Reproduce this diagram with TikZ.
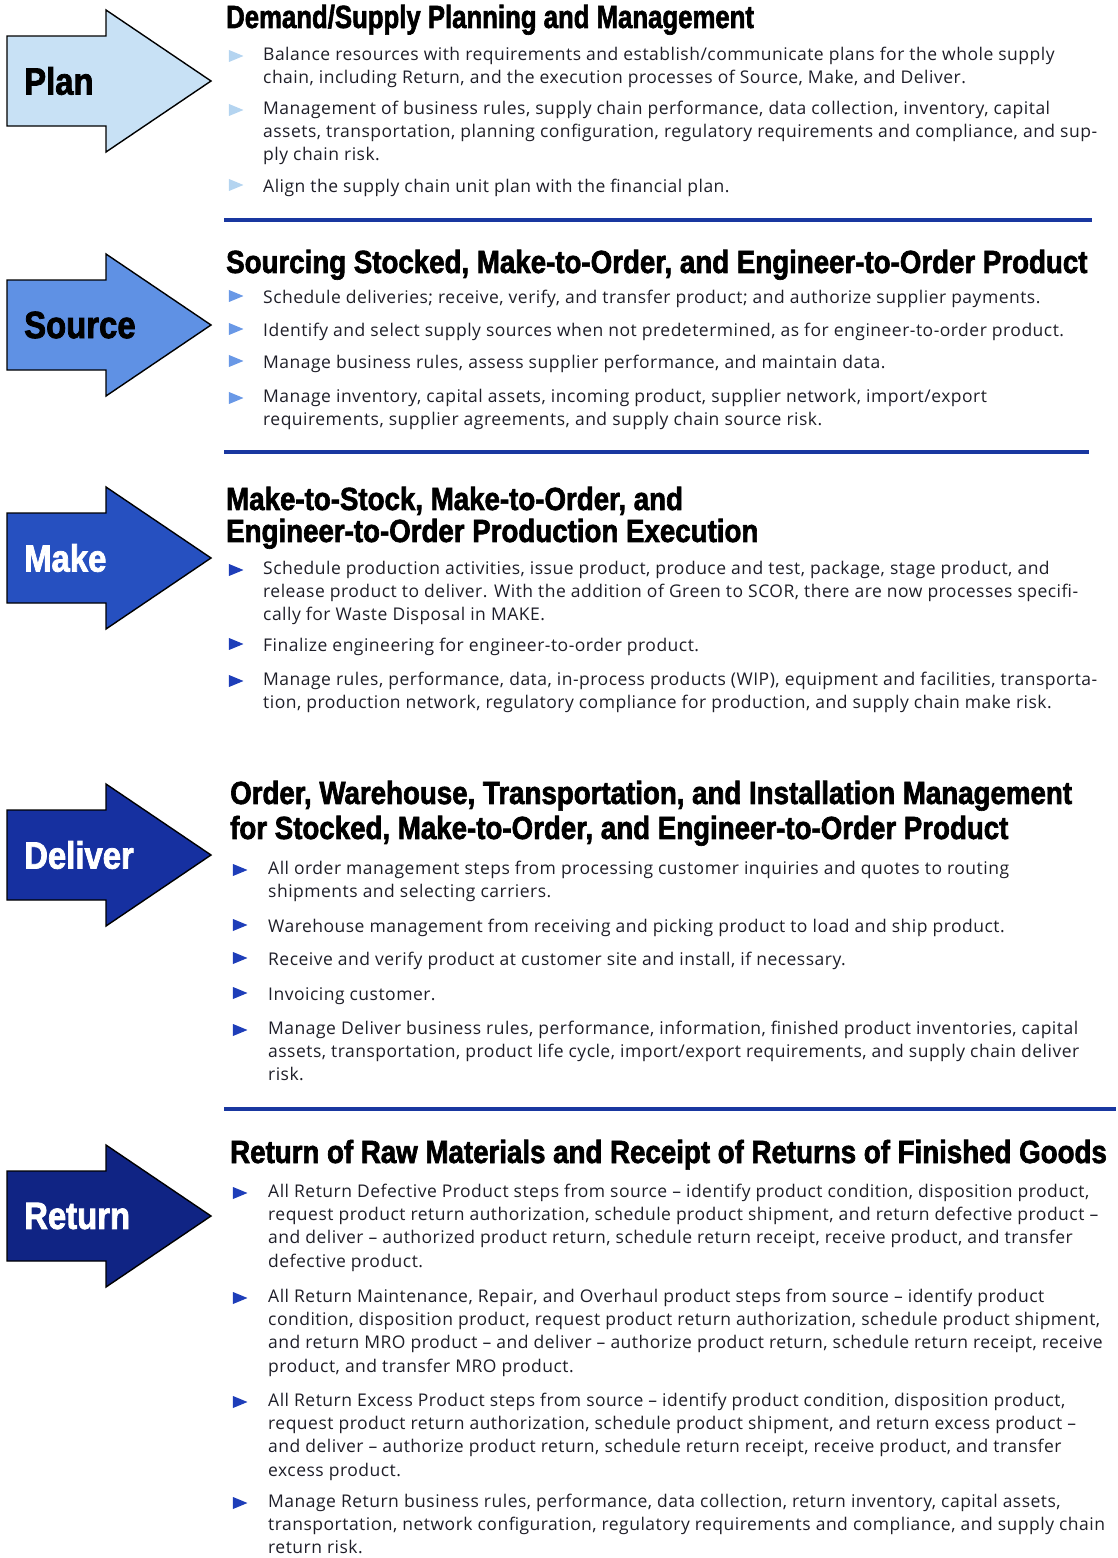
\documentclass[tikz,border=0pt]{standalone}
\usepackage{graphicx}
\usepackage{fontspec}
\setmainfont[LetterSpace=2.8]{Open Sans}
\newfontfamily\headfont[FakeStretch=0.865,FakeBold=2]{Liberation Sans}
\newcommand\hdfont{\headfont\bfseries}
\usetikzlibrary{shapes.geometric,positioning}

\definecolor{plancol}{RGB}{200,225,245}
\definecolor{sourcecol}{RGB}{95,145,228}
\definecolor{makecol}{RGB}{38,80,192}
\definecolor{delivercol}{RGB}{22,48,160}
\definecolor{returncol}{RGB}{16,36,132}
\definecolor{rulecol}{RGB}{25,55,160}
\definecolor{planbul}{RGB}{180,212,240}
\definecolor{sourcebul}{RGB}{105,152,230}
\definecolor{darkbul}{RGB}{30,62,185}
\definecolor{bodytext}{RGB}{30,30,40}

\tikzset{
  arrowbox/.style={draw=black, line width=1.4pt, line join=miter},
  arrowlabel/.style={anchor=west, inner sep=0, font=\fontsize{38}{40}\hdfont},
  % at-coordinates of the texts below are first baselines
  heading/.style={anchor=north west, yshift=22.4pt, align=left, inner sep=0,
    font=\fontsize{32}{32}\hdfont, execute at begin node=\strut},
  itemtext/.style={anchor=north west, yshift=16.31pt, align=left, inner sep=0,
    text=bodytext, font=\fontsize{17.5}{23.3}\selectfont, execute at begin node=\strut},
  bul/.style={isosceles triangle, fill=#1, minimum size=12pt, inner sep=0},
  sepline/.style={rulecol, line width=3.5pt}
}

\begin{document}
\begin{tikzpicture}[x=1pt,y=-1pt]
\useasboundingbox (0,0) rectangle (1118,1558);

% the five process arrows
\foreach \yc/\col/\txt/\tc/\nm in {81/plancol/Plan/black/plan,
    325/sourcecol/Source/black/source, 558/makecol/Make/white/make,
    855/delivercol/Deliver/white/deliver, 1216/returncol/Return/white/return}{
  \draw[arrowbox, fill=\col] (7,\yc-45) -- (106,\yc-45) -- (106,\yc-71) -- (211,\yc)
    -- (106,\yc+71) -- (106,\yc+45) -- (7,\yc+45) -- cycle;
  \node[arrowlabel, text=\tc] (\nm) at (24,\yc) {\txt};
}

% Plan
\node[heading] (planhd) at (226,27) {\scalebox{0.93}[1]{Demand/Supply Planning and Management}};
\node[itemtext] (pl1) at (263,63) {Balance resources with requirements and establish/communicate plans for the whole supply\\
  chain, including Return, and the execution processes of Source, Make, and Deliver.};
\node[itemtext] (pl2) at (263,117) {Management of business rules, supply chain performance, data collection, inventory, capital\\
  assets, transportation, planning configuration, regulatory requirements and compliance, and sup-\\
  ply chain risk.};
\node[itemtext] (pl3) at (263,192) {Align the supply chain unit plan with the financial plan.};
\foreach \n in {pl1,pl2,pl3}
  \node[bul=planbul, left=19pt of \n.north west, yshift=-9.3pt] (\n b) {};
\draw[sepline] (224,220) -- (1092,220);

% Source
\node[heading] (sourcehd) at (226,272) {Sourcing Stocked, Make-to-Order, and Engineer-to-Order Product};
\node[itemtext] (so1) at (263,303) {Schedule deliveries; receive, verify, and transfer product; and authorize supplier payments.};
\node[itemtext] (so2) at (263,336) {Identify and select supply sources when not predetermined, as for engineer-to-order product.};
\node[itemtext] (so3) at (263,368) {Manage business rules, assess supplier performance, and maintain data.};
\node[itemtext] (so4) at (263,405) {Manage inventory, capital assets, incoming product, supplier network, import/export\\
  requirements, supplier agreements, and supply chain source risk.};
\foreach \n in {so1,so2,so3,so4}
  \node[bul=sourcebul, left=19pt of \n.north west, yshift=-9.3pt] (\n b) {};
\draw[sepline] (224,452) -- (1089,452);

% Make
\node[heading] (makehd) at (226,509) {Make-to-Stock, Make-to-Order, and\\
  Engineer-to-Order Production Execution};
\node[itemtext] (ma1) at (263,577) {Schedule production activities, issue product, produce and test, package, stage product, and\\
  release product to deliver. With the addition of Green to SCOR, there are now processes specifi-\\
  cally for Waste Disposal in MAKE.};
\node[itemtext] (ma2) at (263,651) {Finalize engineering for engineer-to-order product.};
\node[itemtext] (ma3) at (263,688) {Manage rules, performance, data, in-process products (WIP), equipment and facilities, transporta-\\
  tion, production network, regulatory compliance for production, and supply chain make risk.};
\foreach \n in {ma1,ma2,ma3}
  \node[bul=darkbul, left=19pt of \n.north west, yshift=-9.3pt] (\n b) {};

% Deliver
\node[heading] (deliverhd) at (230,803) {Order, Warehouse, Transportation, and Installation Management\\[3pt]
  for Stocked, Make-to-Order, and Engineer-to-Order Product};
\node[itemtext] (de1) at (268,877) {All order management steps from processing customer inquiries and quotes to routing\\
  shipments and selecting carriers.};
\node[itemtext] (de2) at (268,932) {Warehouse management from receiving and picking product to load and ship product.};
\node[itemtext] (de3) at (268,965) {Receive and verify product at customer site and install, if necessary.};
\node[itemtext] (de4) at (268,1000) {Invoicing customer.};
\node[itemtext] (de5) at (268,1037) {Manage Deliver business rules, performance, information, finished product inventories, capital\\
  assets, transportation, product life cycle, import/export requirements, and supply chain deliver\\
  risk.};
\foreach \n in {de1,de2,de3,de4,de5}
  \node[bul=darkbul, left=20pt of \n.north west, yshift=-9.3pt] (\n b) {};
\draw[sepline] (224,1109) -- (1116,1109);

% Return
\node[heading] (returnhd) at (230,1162) {Return of Raw Materials and Receipt of Returns of Finished Goods};
\node[itemtext] (re1) at (268,1200) {All Return Defective Product steps from source – identify product condition, disposition product,\\
  request product return authorization, schedule product shipment, and return defective product –\\
  and deliver – authorized product return, schedule return receipt, receive product, and transfer\\
  defective product.};
\node[itemtext] (re2) at (268,1305) {All Return Maintenance, Repair, and Overhaul product steps from source – identify product\\
  condition, disposition product, request product return authorization, schedule product shipment,\\
  and return MRO product – and deliver – authorize product return, schedule return receipt, receive\\
  product, and transfer MRO product.};
\node[itemtext] (re3) at (268,1409) {All Return Excess Product steps from source – identify product condition, disposition product,\\
  request product return authorization, schedule product shipment, and return excess product –\\
  and deliver – authorize product return, schedule return receipt, receive product, and transfer\\
  excess product.};
\node[itemtext] (re4) at (268,1510) {Manage Return business rules, performance, data collection, return inventory, capital assets,\\
  transportation, network configuration, regulatory requirements and compliance, and supply chain\\
  return risk.};
\foreach \n in {re1,re2,re3,re4}
  \node[bul=darkbul, left=20pt of \n.north west, yshift=-9.3pt] (\n b) {};
\end{tikzpicture}
\end{document}
